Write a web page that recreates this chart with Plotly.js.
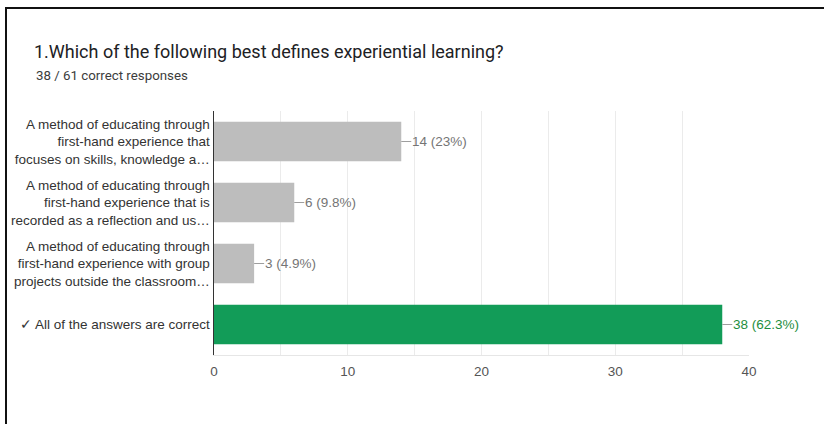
<!DOCTYPE html>
<html>
<head>
<meta charset="utf-8">
<script src="https://cdn.plot.ly/plotly-3.0.1.min.js"></script>
<style>
  html, body { margin: 0; padding: 0; background: #fff; }
  #wrap { position: relative; width: 824px; height: 424px; overflow: hidden; }
  #chart { position: absolute; left: 0; top: 0; width: 824px; height: 424px; }
  #frame { position: absolute; left: 5px; top: 7px; right: -10px; bottom: -10px;
           border-left: 2px solid #111; border-top: 2px solid #111; pointer-events: none; }
</style>
</head>
<body>
<div id="wrap">
  <div id="chart"></div>
  <div id="frame"></div>
</div>
<script>
const titleText = "1.Which of the following best defines experiential learning?";
const subtitleText = "38 / 61 correct responses";
const categories = [
  "A method of educating through<br>first-hand experience that<br>focuses on skills, knowledge a…",
  "A method of educating through<br>first-hand experience that is<br>recorded as a reflection and us…",
  "A method of educating through<br>first-hand experience with group<br>projects outside the classroom…",
  "✓ All of the answers are correct"
];
const counts = [14, 6, 3, 38];
const percents = ["23%", "9.8%", "4.9%", "62.3%"];
const isCorrect = [false, false, false, true];
const xTicks = [0, 10, 20, 30, 40];

const GRAY = "#bdbdbd";
const GREEN = "#129c58";
const barColors = isCorrect.map(c => c ? GREEN : GRAY);
const labelColors = isCorrect.map(c => c ? "#1e8e3e" : "#757575");

const annotations = categories.map((cat, i) => ({
  x: counts[i], y: cat, xref: "x", yref: "y",
  text: counts[i] + " (" + percents[i] + ")",
  showarrow: true, arrowhead: 0, arrowwidth: 1, arrowcolor: "#9e9e9e",
  ax: 10, ay: 0, xanchor: "left", yanchor: "middle", borderpad: 0,
  font: { family: "Liberation Sans, Arial, sans-serif", size: 13.5, color: labelColors[i] }
}));
annotations.push({
  text: subtitleText, xref: "paper", yref: "paper",
  x: (34 - 214) / 535, y: (355 - 75) / 244, xanchor: "left", yanchor: "middle",
  showarrow: false,
  font: { family: "Roboto, sans-serif", size: 13.3, color: "#3c3c3c" }
});

const data = [{
  type: "bar", orientation: "h",
  x: counts, y: categories,
  marker: { color: barColors },
  hoverinfo: "none"
}];

const layout = {
  width: 824, height: 424,
  margin: { l: 214, r: 75, t: 111, b: 69 },
  paper_bgcolor: "#fff", plot_bgcolor: "#fff",
  showlegend: false,
  bargap: 0.35,
  title: {
    text: titleText, xref: "container", yref: "container",
    x: 34 / 824, xanchor: "left", y: 1 - 52 / 424, yanchor: "middle",
    font: { family: "Roboto, sans-serif", size: 18, color: "#202124" }
  },
  xaxis: {
    range: [0, 40], tickvals: xTicks, ticktext: xTicks.map(String),
    showgrid: true, gridcolor: "#ebebeb", gridwidth: 1,
    minor: { dtick: 5, showgrid: true, gridcolor: "#ebebeb", gridwidth: 1 },
    zeroline: false,
    showline: true, linecolor: "#e6e6e6", linewidth: 1,
    ticks: "outside", ticklen: 4, tickcolor: "rgba(0,0,0,0)",
    tickfont: { family: "Liberation Sans, Arial, sans-serif", size: 13.5, color: "#555" },
    fixedrange: true
  },
  yaxis: {
    autorange: "reversed", type: "category",
    showline: true, linecolor: "#333", linewidth: 1.5,
    showgrid: false, zeroline: false,
    ticks: "", ticklabelstandoff: 0,
    tickfont: { family: "Liberation Sans, Arial, sans-serif", size: 13.5, color: "#333" },
    fixedrange: true
  },
  annotations: annotations
};

Plotly.newPlot("chart", data, layout, { displayModeBar: false, staticPlot: true });
</script>
</body>
</html>
